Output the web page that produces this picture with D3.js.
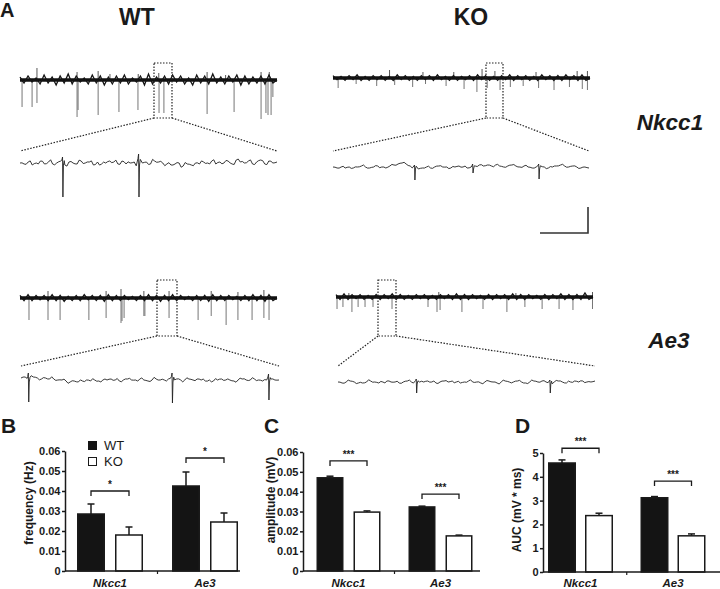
<!DOCTYPE html>
<html><head><meta charset="utf-8">
<script src="https://cdn.jsdelivr.net/npm/d3@7"></script>
<style>body{margin:0;background:#fff}svg{display:block;font-family:"Liberation Sans",Arial,sans-serif}</style>
</head><body>
<script>
// ---------------- DATA ----------------
const categories = ["Nkcc1", "Ae3"];
const series = ["WT", "KO"];
// B: frequency (Hz)
const freqWT = [0.0285, 0.0425], freqWTerr = [0.005, 0.007];
const freqKO = [0.018, 0.0245], freqKOerr = [0.004, 0.0045];
const freqTicks = [0, 0.01, 0.02, 0.03, 0.04, 0.05, 0.06];
const freqSig = [["*", 0.040], ["*", 0.0565]];
// C: amplitude (mV)
const ampWT = [0.047, 0.0323], ampWTerr = [0.0008, 0.0004];
const ampKO = [0.0297, 0.0177], ampKOerr = [0.0006, 0.0004];
const ampTicks = [0, 0.01, 0.02, 0.03, 0.04, 0.05, 0.06];
const ampSig = [["***", 0.0555], ["***", 0.0388]];
// D: AUC (mV * ms)
const aucWT = [4.58, 3.12], aucWTerr = [0.13, 0.05];
const aucKO = [2.37, 1.52], aucKOerr = [0.10, 0.08];
const aucTicks = [0, 1, 2, 3, 4, 5];
const aucSig = [["***", 5.2], ["***", 3.82]];

// A: traces. Compressed traces: [time fraction, deflection]
const wtNkccSpikesDown = [[0.008,27],[0.047,27],[0.066,23],[0.222,37],[0.226,30],[0.304,35],[0.385,32],[0.459,30],[0.541,33],[0.560,33],[0.728,34],[0.833,32],[0.938,39],[0.957,33],[0.965,35],[0.977,35],[0.984,17]];
const wtNkccSpikesUp = [[0.066,12],[0.222,8],[0.304,9],[0.35,6],[0.46,6],[0.54,7],[0.728,8],[0.80,5],[0.938,8],[0.97,8]];
const koNkccSpikesDown = [[0.02,10],[0.09,6],[0.17,8],[0.24,7],[0.31,9],[0.36,6],[0.44,8],[0.51,11],[0.56,14],[0.60,10],[0.65,12],[0.69,9],[0.74,8],[0.80,10],[0.86,12],[0.92,9],[0.97,11],[0.99,12]];
const koNkccSpikesUp = [[0.22,8],[0.35,6],[0.47,6],[0.58,9],[0.63,7],[0.79,6],[0.95,7],[0.99,7]];
const wtAe3SpikesDown = [[0.035,22],[0.109,22],[0.156,22],[0.268,22],[0.335,20],[0.393,25],[0.397,23],[0.405,20],[0.482,18],[0.486,18],[0.580,20],[0.693,22],[0.744,18],[0.802,27],[0.848,22],[0.903,22],[0.949,20],[0.969,22]];
const wtAe3SpikesUp = [[0.109,7],[0.335,7],[0.393,9],[0.482,7],[0.58,7],[0.744,7],[0.848,6],[0.949,8]];
const koAe3SpikesDown = [[0.004,12],[0.027,10],[0.062,15],[0.086,10],[0.113,10],[0.144,10],[0.218,12],[0.358,10],[0.393,15],[0.405,13],[0.490,15],[0.572,12],[0.665,15],[0.735,10],[0.802,12],[0.868,12],[0.922,13],[0.998,12]];
const koAe3SpikesUp = [[0.05,4],[0.4,5],[0.7,4],[0.998,5]];
// band envelopes of compressed traces (upper, lower)
const wtNkccEnvUp = [3,4,2,5,3,4,6,4,2,5,4,3,4,5,2,4,6,3,4,5,4,2,5,4,6,3,4,5,4,3,4,5];
const wtNkccEnvLo = [3,2,4,3,5,3,4,2,4,3,5,4,3,4,2,5,4,3,4,2,4,5,3,4,3,4,2,5,4,3,4,3];
const koNkccEnvUp = [3,2,3,4,2,3,3,2,4,3,2,3,3,4,2,3,2,3,4,3,2,3,4,3,3,2,4,3,3,4,3,4];
const koNkccEnvLo = [2,3,2,3,3,2,3,3,2,3,3,2,3,2,3,3,2,3,2,3,3,2,3,2,3,3,2,3,3,2,3,3];
const wtAe3EnvUp = [3,4,3,3,4,3,2,3,4,3,3,4,3,3,2,3,4,3,3,4,3,2,3,3,4,3,3,2,3,4,3,4];
const wtAe3EnvLo = [3,3,2,3,3,4,3,3,2,3,4,3,3,2,3,3,3,4,3,3,2,3,3,4,3,3,2,3,3,3,4,3];
const koAe3EnvUp = [3,4,3,3,2,3,3,4,3,2,3,3,2,3,3,4,3,3,2,3,3,3,4,3,3,2,3,3,4,3,3,5];
const koAe3EnvLo = [3,3,2,3,3,3,2,3,3,3,2,3,3,2,3,3,3,2,3,3,2,3,3,3,2,3,3,2,3,3,3,3];
// expanded traces: baseline samples and events [t, up, down]
const wtNkccZoom = [0,-1,1,-2,0,2,-1,1,-1,0,2,-2,1,0,-1,2,0,1,-2,1,-1,0,2,1,-1,2,-1,0,1,-2,0,1,-1,2,1,0,-1,-2,-1,0,-3,-1,-2,0,-1,1,0,2,-1,1,0,2,-1,3,1,0,2,-1,1,3,-1,2,0,1];
const wtNkccZoomEvents = [[0.167,6,34],[0.463,9,34]];
const koNkccZoom = [0,-1,0,-1,0,-1,0,1,0,-1,0,1,0,-1,1,2,3,4,3,1,-1,-2,-1,0,-1,0,1,0,0,-1,0,1,0,-1,0,1,2,1,2,1,2,1,0,1,2,1,0,1,0,-1,0,1,0,-1,0,1,2,1,0,1,0,-1,0,-1];
const koNkccZoomEvents = [[0.32,2,13],[0.547,3,6],[0.805,3,12]];
const wtAe3Zoom = [2,3,2,3,2,1,2,1,1,0,0,-1,-2,-1,-2,-1,0,-1,0,-1,0,0,1,0,-1,0,1,0,0,1,0,-1,0,1,0,0,1,0,1,0,0,1,0,1,0,-1,0,-1,0,1,0,0,-1,0,1,0,0,1,0,-1,0,1,0,0];
const wtAe3ZoomEvents = [[0.03,7,22],[0.587,7,23],[0.961,6,20]];
const koAe3Zoom = [0,-1,0,1,0,-1,-1,0,1,0,-1,0,1,0,0,-1,0,1,0,-1,0,0,1,0,-1,0,1,0,1,0,-1,0,1,0,0,-1,0,1,0,-1,0,1,0,0,1,0,-1,0,1,0,1,0,-1,0,1,0,-1,0,1,0,1,0,0,1];
const koAe3ZoomEvents = [[0.306,3,11],[0.826,2,11]];
// fine jitter between baseline samples of expanded traces
const fineJitter = [0.5,-1,2,0.3,-1.5,1,-0.5,2.5,-1,0.2,1.5,-2,0.8,-0.3,1.8,-1.2,0.4,2,-0.8,-1.6,1.1,0.3,-0.9,2.2,-1.4,0.6,1.3,-0.2,-1.8,1.7,0.1,-1.1,2.4,-0.6,0.9,-1.7,1.4,-0.4,0.7,-2.1,1.9,0.2,-1.3,0.5,1.6,-0.7,-1.5,2.1,0.4,-1,1.2,-0.3,-1.9,1.5,0.8,-0.6,2,-1.2,0.3,1,-1.6,0.6,-0.2];

// ---------------- DRAW ----------------
const W = 720, H = 589;
const svg = d3.select("body").append("svg").attr("width", W).attr("height", H);
const ink = "#1a1a1a";

function txt(x, y, s, size, opts = {}) {
  return svg.append("text").attr("x", x).attr("y", y).text(s)
    .attr("font-size", size).attr("font-weight", opts.weight || "bold")
    .attr("font-style", opts.italic ? "italic" : "normal")
    .attr("text-anchor", opts.anchor || "start").attr("fill", ink);
}

// Panel A labels
txt(0, 17, "A", 20);
txt(137, 25, "WT", 23, {anchor: "middle"});
txt(471, 25, "KO", 23, {anchor: "middle"});
txt(670, 130, "Nkcc1", 22.5, {anchor: "middle", italic: true});
txt(669, 348, "Ae3", 22.5, {anchor: "middle", italic: true});

const traces = [
  {x0:20, x1:277, base:80, up:wtNkccSpikesUp, down:wtNkccSpikesDown, envU:wtNkccEnvUp, envL:wtNkccEnvLo, amp:1,
   box:[154,172,63,118], zx0:20, zx1:277, zbase:163, zy:151, zoom:wtNkccZoom, ev:wtNkccZoomEvents, jit:1.3},
  {x0:333, x1:590, base:78, up:koNkccSpikesUp, down:koNkccSpikesDown, envU:koNkccEnvUp, envL:koNkccEnvLo, amp:0.8,
   box:[486,503,63,118], zx0:333, zx1:589, zbase:167, zy:151, zoom:koNkccZoom, ev:koNkccZoomEvents, jit:0.6},
  {x0:20, x1:277, base:298, up:wtAe3SpikesUp, down:wtAe3SpikesDown, envU:wtAe3EnvUp, envL:wtAe3EnvLo, amp:0.85,
   box:[157,177,280,336], zx0:21, zx1:279, zbase:380, zy:366, zoom:wtAe3Zoom, ev:wtAe3ZoomEvents, jit:0.9},
  {x0:336, x1:593, base:297, up:koAe3SpikesUp, down:koAe3SpikesDown, envU:koAe3EnvUp, envL:koAe3EnvLo, amp:0.8,
   box:[378,396,280,336], zx0:338, zx1:595, zbase:382, zy:366, zoom:koAe3Zoom, ev:koAe3ZoomEvents, jit:0.7},
];

const dots = "1.5,1.5";
traces.forEach(tr => {
  const g = svg.append("g");
  const x = d3.scaleLinear().domain([0, 1]).range([tr.x0, tr.x1]);
  const y = d3.scaleLinear().domain([-40, 40]).range([tr.base + 40, tr.base - 40]);
  // spikes
  g.selectAll("line.dn").data(tr.down).join("line")
    .attr("x1", d => x(d[0])).attr("x2", d => x(d[0]))
    .attr("y1", y(0)).attr("y2", d => y(-d[1]))
    .attr("stroke", "#666").attr("stroke-width", 0.9);
  g.selectAll("line.up").data(tr.up).join("line")
    .attr("x1", d => x(d[0])).attr("x2", d => x(d[0]))
    .attr("y1", y(0)).attr("y2", d => y(d[1]))
    .attr("stroke", "#444").attr("stroke-width", 0.9);
  // noise band: zigzag between upper and lower envelope samples
  const n = tr.envU.length;
  const zig = [];
  tr.envU.forEach((u, i) => {
    zig.push([i / n, u * tr.amp]);
    zig.push([(i + 0.5) / n, -tr.envL[i] * tr.amp]);
  });
  zig.push([1, 0]);
  g.append("line").attr("x1", x(0)).attr("x2", x(1)).attr("y1", y(0)).attr("y2", y(0))
    .attr("stroke", "#111").attr("stroke-width", 3.4);
  g.append("path").datum(zig)
    .attr("d", d3.line().x(p => x(p[0])).y(p => y(p[1])))
    .attr("fill", "none").attr("stroke", "#151515").attr("stroke-width", 1.3);
  // dotted box & zoom lines
  const [bx0, bx1, by0, by1] = tr.box;
  g.append("rect").attr("x", bx0).attr("y", by0).attr("width", bx1 - bx0).attr("height", by1 - by0)
    .attr("fill", "none").attr("stroke", "#222").attr("stroke-width", 1.2).attr("stroke-dasharray", dots);
  g.append("line").attr("x1", bx0).attr("y1", by1).attr("x2", tr.zx0).attr("y2", tr.zy)
    .attr("stroke", "#222").attr("stroke-width", 1.2).attr("stroke-dasharray", dots);
  g.append("line").attr("x1", bx1).attr("y1", by1).attr("x2", tr.zx1).attr("y2", tr.zy)
    .attr("stroke", "#222").attr("stroke-width", 1.2).attr("stroke-dasharray", dots);
  // expanded trace
  const zx = d3.scaleLinear().domain([0, 1]).range([tr.zx0, tr.zx1]);
  const zy = d3.scaleLinear().domain([-40, 40]).range([tr.zbase + 40, tr.zbase - 40]);
  const m = tr.zoom.length;
  let pts = [];
  tr.zoom.forEach((v, i) => {
    pts.push([i / (m - 1), v]);
    if (i < m - 1) pts.push([(i + 0.5) / (m - 1), (v + tr.zoom[i + 1]) / 2 + fineJitter[i % fineJitter.length] * tr.jit]);
  });
  pts = pts.filter(p => !tr.ev.some(e => Math.abs(p[0] - e[0]) < 0.006));
  tr.ev.forEach(([t, u, d]) => {
    pts.push([t - 0.004, u * 0.5], [t - 0.0015, u], [t, -d], [t + 0.002, -2], [t + 0.005, u * 0.4]);
  });
  pts.sort((a, b) => a[0] - b[0]);
  g.append("path").datum(pts)
    .attr("d", d3.line().x(p => zx(p[0])).y(p => zy(p[1])))
    .attr("fill", "none").attr("stroke", "#222").attr("stroke-width", 0.9);
});

// scale bar
svg.append("path").attr("d", "M540,233H588V207").attr("fill", "none")
  .attr("stroke", "#333").attr("stroke-width", 1.6);

// ---------------- BAR PANELS ----------------
function barPanel(cfg) {
  const g = svg.append("g");
  const y = d3.scaleLinear().domain([0, cfg.max]).range([cfg.y0, cfg.yTop]);
  const gx = d3.scaleBand().domain(categories).range(cfg.groupRange);
  const b = cfg.barW, gp = cfg.gap;
  const sx = d3.scaleBand().domain(series).range([-(b + gp / 2), b + gp / 2]).paddingInner(gp / (b + gp));
  const data = [];
  categories.forEach((c, i) => {
    data.push({c, s: "WT", v: cfg.wt[i], e: cfg.wtErr[i]});
    data.push({c, s: "KO", v: cfg.ko[i], e: cfg.koErr[i]});
  });
  const cx = d => gx(d.c) + gx.bandwidth() / 2 + sx(d.s);
  // error bars
  g.selectAll("line.err").data(data).join("line")
    .attr("x1", d => cx(d) + b / 2).attr("x2", d => cx(d) + b / 2)
    .attr("y1", d => y(d.v)).attr("y2", d => y(d.v + d.e))
    .attr("stroke", ink).attr("stroke-width", 1.5);
  g.selectAll("line.cap").data(data).join("line")
    .attr("x1", d => cx(d) + b / 2 - 3.5).attr("x2", d => cx(d) + b / 2 + 3.5)
    .attr("y1", d => y(d.v + d.e)).attr("y2", d => y(d.v + d.e))
    .attr("stroke", ink).attr("stroke-width", 1.5);
  // bars
  g.selectAll("rect.bar").data(data).join("rect")
    .attr("x", d => cx(d) + 0.75).attr("width", b - 1.5)
    .attr("y", d => y(d.v)).attr("height", d => y(0) - y(d.v))
    .attr("fill", d => d.s === "WT" ? "#141414" : "#fff")
    .attr("stroke", ink).attr("stroke-width", 1.5);
  // y axis
  const ax = g.append("g").attr("transform", `translate(${cfg.axisX},0)`)
    .call(d3.axisLeft(y).tickValues(cfg.ticks).tickFormat(cfg.fmt).tickSize(3).tickSizeOuter(0).tickPadding(1.5));
  ax.select(".domain").attr("stroke", ink).attr("stroke-width", 1.5);
  ax.selectAll(".tick line").attr("stroke", ink).attr("stroke-width", 1.5);
  ax.selectAll(".tick text").attr("font-size", 11).attr("font-weight", "bold").attr("fill", ink)
    .attr("font-family", '"Liberation Sans",Arial,sans-serif');
  // x axis baseline
  g.append("line").attr("x1", cfg.axisX).attr("x2", cfg.xEnd).attr("y1", y(0)).attr("y2", y(0))
    .attr("stroke", ink).attr("stroke-width", 1.5);
  const mid = (gx(categories[0]) + gx(categories[1]) + gx.bandwidth()) / 2;
  g.append("line").attr("x1", mid).attr("x2", mid).attr("y1", y(0)).attr("y2", y(0) + 3)
    .attr("stroke", ink).attr("stroke-width", 1.2);
  // category labels
  categories.forEach(c => {
    txt(gx(c) + gx.bandwidth() / 2, 587, c, 11.5, {anchor: "middle", italic: true});
  });
  // y label
  svg.append("text").attr("transform", `translate(${cfg.labelX},${cfg.labelY}) rotate(-90)`)
    .attr("text-anchor", "middle").attr("dominant-baseline", "central")
    .attr("font-size", 12).attr("font-weight", "bold").attr("fill", ink).text(cfg.label);
  // significance brackets
  categories.forEach((c, i) => {
    const [stars, lvl] = cfg.sig[i];
    const xa = gx(c) + gx.bandwidth() / 2 + sx("WT") + b / 2;
    const xb = gx(c) + gx.bandwidth() / 2 + sx("KO") + b / 2;
    const yy = y(lvl);
    g.append("path").attr("d", `M${xa},${yy + 5}V${yy}H${xb}V${yy + 5}`)
      .attr("fill", "none").attr("stroke", ink).attr("stroke-width", 1.3);
    txt((xa + xb) / 2, yy - 3, stars, 10, {anchor: "middle"});
  });
  // panel letter
  txt(cfg.letterX, 433, cfg.letter, 21);
}

const fmt2 = d => d === 0 ? "0" : d3.format(".2f")(d);
barPanel({letter: "B", letterX: 1, axisX: 65, xEnd: 240, y0: 571, yTop: 451, max: 0.06, ticks: freqTicks, fmt: fmt2,
  groupRange: [62.5, 252.5], barW: 28, gap: 10, wt: freqWT, wtErr: freqWTerr, ko: freqKO, koErr: freqKOerr,
  sig: freqSig, label: "frequency (Hz)", labelX: 29, labelY: 503});
barPanel({letter: "C", letterX: 264, axisX: 303, xEnd: 480, y0: 571, yTop: 452, max: 0.06, ticks: ampTicks, fmt: fmt2,
  groupRange: [302.5, 486.5], barW: 27, gap: 10, wt: ampWT, wtErr: ampWTerr, ko: ampKO, koErr: ampKOerr,
  sig: ampSig, label: "amplitude (mV)", labelX: 271, labelY: 500});
barPanel({letter: "D", letterX: 515, axisX: 543, xEnd: 720, y0: 572, yTop: 453, max: 5, ticks: aucTicks, fmt: d3.format("d"),
  groupRange: [534.25, 719.25], barW: 28, gap: 9, wt: aucWT, wtErr: aucWTerr, ko: aucKO, koErr: aucKOerr,
  sig: aucSig, label: "AUC (mV * ms)", labelX: 517, labelY: 510});

// legend in B
svg.append("rect").attr("x", 88).attr("y", 441).attr("width", 9).attr("height", 9).attr("fill", "#141414");
svg.append("rect").attr("x", 88.5).attr("y", 457.5).attr("width", 8).attr("height", 8).attr("fill", "#fff")
  .attr("stroke", ink).attr("stroke-width", 1);
txt(104, 450, "WT", 13, {weight: "normal"});
txt(104, 466, "KO", 13, {weight: "normal"});
</script>
</body></html>
